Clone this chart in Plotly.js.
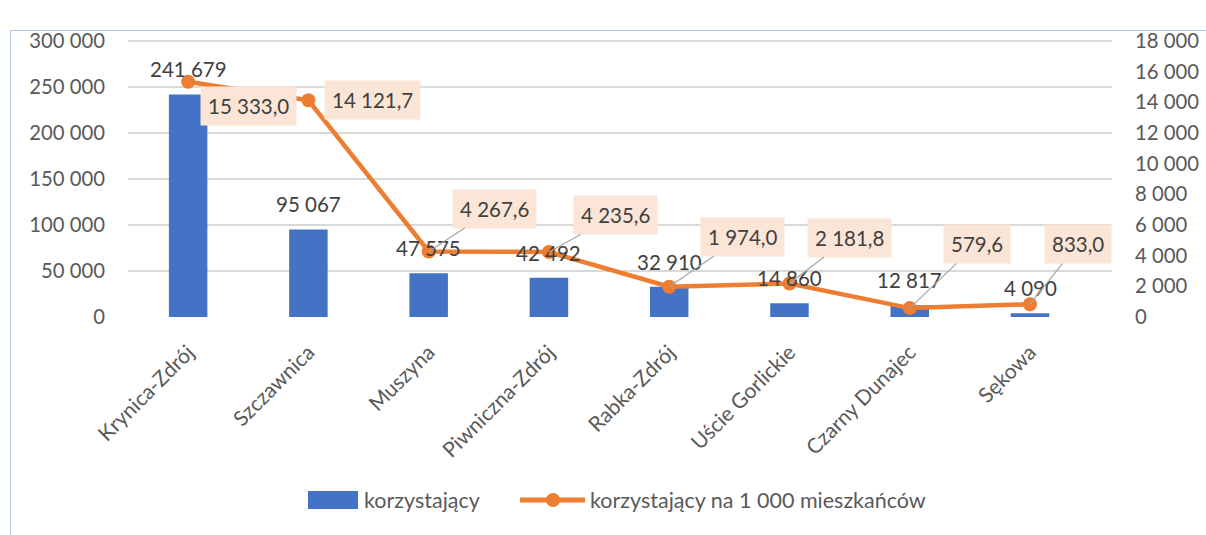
<!DOCTYPE html>
<html>
<head>
<meta charset="utf-8">
<script src="https://cdn.plot.ly/plotly-3.0.1.min.js"></script>
<style>
  html, body { margin: 0; padding: 0; background: #fff; width: 1206px; height: 535px; overflow: hidden; }
  #frame { position: absolute; left: 10px; top: 30px; width: 1196px; height: 505px;
           border-left: 1.5px solid #b4c7e7; border-top: 1.5px solid #b4c7e7; box-sizing: border-box; }
  #chart { position: absolute; left: 10px; top: 0px; width: 1196px; height: 535px; }
</style>
</head>
<body>
<div id="frame"></div>
<div id="chart"></div>
<script>
const categories = ["Krynica-Zdrój", "Szczawnica", "Muszyna", "Piwniczna-Zdrój", "Rabka-Zdrój", "Uście Gorlickie", "Czarny Dunajec", "Sękowa"];
const users = [241679, 95067, 47575, 42492, 32910, 14860, 12817, 4090];
const usersPer1000 = [15333.0, 14121.7, 4267.6, 4235.6, 1974.0, 2181.8, 579.6, 833.0];
const seriesNames = ["korzystający", "korzystający na 1 000 mieszkańców"];
const leftTicks = [0, 50000, 100000, 150000, 200000, 250000, 300000];
const rightTicks = [0, 2000, 4000, 6000, 8000, 10000, 12000, 14000, 16000, 18000];
// label box offsets (pixels) for line labels
const lineLabelOffsets = [[60, 24], [64, 0], [66, -43], [67, -37], [73, -50], [60, -46], [67, -64], [48, -60]];
const showLeader = [false, false, true, true, true, true, true, true];

function fmt(v, dec) {
  const parts = v.toFixed(dec).split(".");
  const intPart = parts[0].replace(/\B(?=(\d{3})+(?!\d))/g, " ");
  return dec > 0 ? intPart + "," + parts[1] : intPart;
}

const FONT = "Lato, 'Open Sans', sans-serif";
const GREY = "#595959";
const BLUE = "#4472C4";
const ORANGE = "#ED7D31";

const traces = [
  {
    type: "bar", name: seriesNames[0], x: categories, y: users,
    marker: { color: BLUE }, yaxis: "y", hoverinfo: "skip"
  },
  {
    type: "scatter", mode: "lines+markers", name: seriesNames[1], x: categories, y: usersPer1000,
    line: { color: ORANGE, width: 4.5 }, marker: { color: ORANGE, size: 14 },
    yaxis: "y2", hoverinfo: "skip", cliponaxis: false
  }
];

const annotations = [];
categories.forEach((c, i) => {
  annotations.push({
    x: c, y: users[i], xref: "x", yref: "y", text: fmt(users[i], 0),
    showarrow: false, yanchor: "middle", yshift: 25,
    font: { family: FONT, size: 20.5, color: "#404040" }
  });
});
categories.forEach((c, i) => {
  annotations.push({
    x: c, y: usersPer1000[i], xref: "x", yref: "y2", text: fmt(usersPer1000[i], 1),
    showarrow: true, arrowhead: 0, arrowwidth: 1.2,
    arrowcolor: showLeader[i] ? "#a6a6a6" : "rgba(0,0,0,0)",
    ax: lineLabelOffsets[i][0], ay: lineLabelOffsets[i][1],
    bgcolor: "#FBE5D6", borderpad: 7,
    font: { family: FONT, size: 20.5, color: "#404040" }
  });
});

// plot area geometry (pixels inside the chart div) for the manual legend
const H = 535, PW = 984, PH = 279, PB = 317;
const px = x => (x - 118) / PW;
const py = y => (PB - y) / PH;
const LY = 500;

annotations.push({
  xref: "paper", yref: "paper", x: px(352), y: py(LY), xanchor: "left", yanchor: "middle",
  text: seriesNames[0], showarrow: false, font: { family: FONT, size: 21.5, color: GREY }
});
annotations.push({
  xref: "paper", yref: "paper", x: px(578), y: py(LY), xanchor: "left", yanchor: "middle",
  text: seriesNames[1], showarrow: false, font: { family: FONT, size: 21.5, color: GREY }
});

const shapes = [
  { type: "rect", xref: "paper", yref: "paper", x0: px(298), x1: px(348), y0: py(LY + 9), y1: py(LY - 9),
    fillcolor: BLUE, line: { width: 0 } },
  { type: "line", xref: "paper", yref: "paper", x0: px(510), x1: px(575), y0: py(LY), y1: py(LY),
    line: { color: ORANGE, width: 5 } },
  { type: "circle", xref: "paper", yref: "paper", x0: px(536), x1: px(550),
    y0: py(LY + 7), y1: py(LY - 7), fillcolor: ORANGE, line: { width: 0 } }
];

const layout = {
  width: 1196, height: H,
  margin: { l: 118, r: 94, t: PB - PH, b: H - PB },
  paper_bgcolor: "rgba(0,0,0,0)", plot_bgcolor: "#fff",
  separators: ", ",
  font: { family: FONT, color: GREY, size: 20 },
  bargap: 0.68,
  showlegend: false,
  xaxis: {
    type: "category", tickangle: -45, showgrid: false, zeroline: false,
    showline: false, ticks: "", ticklabelstandoff: 18,
    tickfont: { family: FONT, size: 21, color: GREY }
  },
  yaxis: {
    range: [0, 300000 * 1.01], tickmode: "array", tickvals: leftTicks,
    ticktext: leftTicks.map(v => fmt(v, 0)), showgrid: true,
    gridcolor: "#d9d9d9", gridwidth: 1.5, zeroline: false, showline: false,
    ticklabelstandoff: 22, ticklabeloverflow: "allow",
    tickfont: { family: FONT, size: 20.3, color: GREY }
  },
  yaxis2: {
    range: [0, 18000 * 1.01], tickmode: "array", tickvals: rightTicks,
    ticktext: rightTicks.map(v => fmt(v, 0)), overlaying: "y", side: "right",
    showgrid: false, zeroline: false, showline: false,
    ticklabelstandoff: 22, ticklabeloverflow: "allow",
    tickfont: { family: FONT, size: 20.3, color: GREY }
  },
  annotations: annotations,
  shapes: shapes
};

Plotly.newPlot("chart", traces, layout, { displayModeBar: false, staticPlot: true });
</script>
</body>
</html>
